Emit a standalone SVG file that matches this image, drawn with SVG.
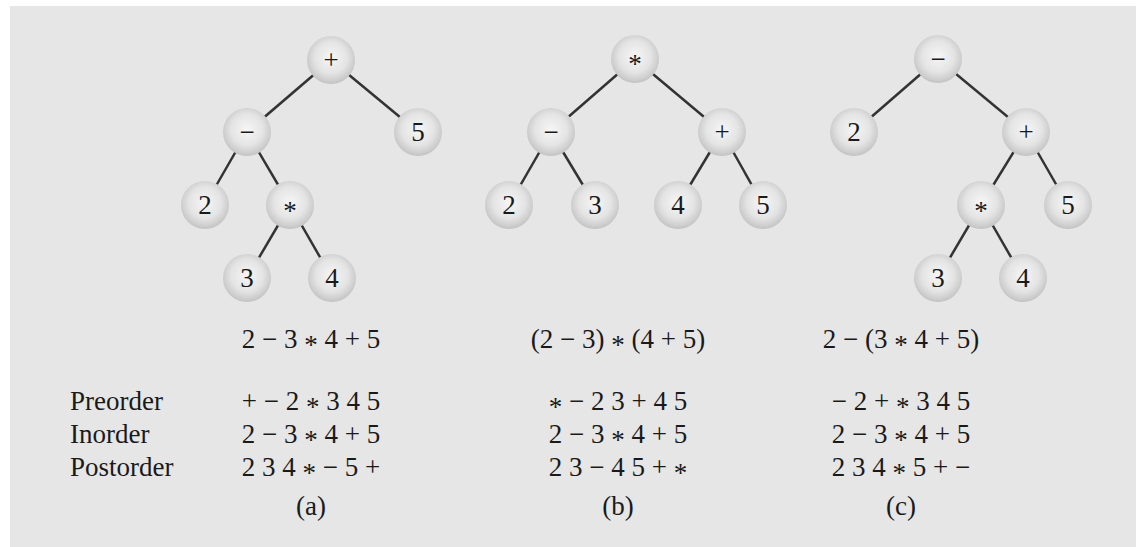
<svg xmlns="http://www.w3.org/2000/svg" width="1136" height="547" viewBox="0 0 1136 547">
<defs>
<radialGradient id="ng" cx="50%" cy="45%" r="55%">
<stop offset="0" stop-color="#f6f6f6"/>
<stop offset="0.6" stop-color="#e4e4e4"/>
<stop offset="0.88" stop-color="#cecece"/>
<stop offset="1" stop-color="#c2c2c2"/>
</radialGradient>
</defs>
<style>
.n circle{fill:url(#ng);}
.n text{font-family:"Liberation Serif",serif;font-size:27px;fill:#1a1a1a;text-anchor:middle;}
.e line{stroke:#333;stroke-width:2.5;}
.t{font-family:"Liberation Serif",serif;font-size:27px;fill:#1a1a1a;}
.m{text-anchor:middle;}
</style>
<rect x="0" y="0" width="1136" height="547" fill="#ffffff"/>
<rect x="10" y="6" width="1126" height="541" fill="#e6e6e6"/>
<g id="connectors" class="e">
<line x1="331" y1="60" x2="247" y2="132"/>
<line x1="331" y1="60" x2="418" y2="132"/>
<line x1="247" y1="132" x2="205" y2="205"/>
<line x1="247" y1="132" x2="290" y2="205"/>
<line x1="290" y1="205" x2="247" y2="278"/>
<line x1="290" y1="205" x2="332" y2="278"/>
<line x1="635" y1="59" x2="551" y2="132"/>
<line x1="635" y1="59" x2="722" y2="132"/>
<line x1="551" y1="132" x2="509" y2="205"/>
<line x1="551" y1="132" x2="595" y2="205"/>
<line x1="722" y1="132" x2="678" y2="205"/>
<line x1="722" y1="132" x2="763" y2="205"/>
<line x1="938" y1="59" x2="854" y2="132"/>
<line x1="938" y1="59" x2="1026" y2="132"/>
<line x1="1026" y1="132" x2="981" y2="205"/>
<line x1="1026" y1="132" x2="1068" y2="205"/>
<line x1="981" y1="205" x2="938" y2="278"/>
<line x1="981" y1="205" x2="1023" y2="278"/>
</g>
<g id="a-plus" class="n"><circle cx="331" cy="60" r="24"/><text x="331" y="69">+</text></g>
<g id="a-minus" class="n"><circle cx="247" cy="132" r="24"/><text x="247" y="141">−</text></g>
<g id="a-5" class="n"><circle cx="418" cy="132" r="24"/><text x="418" y="141">5</text></g>
<g id="a-2" class="n"><circle cx="205" cy="205" r="24"/><text x="205" y="214">2</text></g>
<g id="a-star" class="n"><circle cx="290" cy="205" r="24"/><text x="290" y="220">*</text></g>
<g id="a-3" class="n"><circle cx="247" cy="278" r="24"/><text x="247" y="287">3</text></g>
<g id="a-4" class="n"><circle cx="332" cy="278" r="24"/><text x="332" y="287">4</text></g>

<g id="b-star" class="n"><circle cx="635" cy="59" r="24"/><text x="635" y="73">*</text></g>
<g id="b-minus" class="n"><circle cx="551" cy="132" r="24"/><text x="551" y="141">−</text></g>
<g id="b-plus" class="n"><circle cx="722" cy="132" r="24"/><text x="722" y="141">+</text></g>
<g id="b-2" class="n"><circle cx="509" cy="205" r="24"/><text x="509" y="214">2</text></g>
<g id="b-3" class="n"><circle cx="595" cy="205" r="24"/><text x="595" y="214">3</text></g>
<g id="b-4" class="n"><circle cx="678" cy="205" r="24"/><text x="678" y="214">4</text></g>
<g id="b-5" class="n"><circle cx="763" cy="205" r="24"/><text x="763" y="214">5</text></g>

<g id="c-minus" class="n"><circle cx="938" cy="59" r="24"/><text x="938" y="68">−</text></g>
<g id="c-2" class="n"><circle cx="854" cy="132" r="24"/><text x="854" y="141">2</text></g>
<g id="c-plus" class="n"><circle cx="1026" cy="132" r="24"/><text x="1026" y="141">+</text></g>
<g id="c-star" class="n"><circle cx="981" cy="205" r="24"/><text x="981" y="220">*</text></g>
<g id="c-5" class="n"><circle cx="1068" cy="205" r="24"/><text x="1068" y="214">5</text></g>
<g id="c-3" class="n"><circle cx="938" cy="278" r="24"/><text x="938" y="287">3</text></g>
<g id="c-4" class="n"><circle cx="1023" cy="278" r="24"/><text x="1023" y="287">4</text></g>

<g id="labels" class="t">
<text x="70" y="410">Preorder</text>
<text x="70" y="443">Inorder</text>
<text x="70" y="476">Postorder</text>
</g>
<g id="col-a" class="t m">
<text x="311" y="348">2 − 3 <tspan dy="6">*</tspan><tspan dy="-6"> 4 + 5</tspan></text>
<text x="311" y="410">+ − 2 <tspan dy="6">*</tspan><tspan dy="-6"> 3 4 5</tspan></text>
<text x="311" y="443">2 − 3 <tspan dy="6">*</tspan><tspan dy="-6"> 4 + 5</tspan></text>
<text x="311" y="476">2 3 4 <tspan dy="6">*</tspan><tspan dy="-6"> − 5 +</tspan></text>
<text x="311" y="515">(a)</text>
</g>
<g id="col-b" class="t m">
<text x="618" y="348">(2 − 3) <tspan dy="6">*</tspan><tspan dy="-6"> (4 + 5)</tspan></text>
<text x="618" y="410"><tspan dy="6">*</tspan><tspan dy="-6"> − 2 3 + 4 5</tspan></text>
<text x="618" y="443">2 − 3 <tspan dy="6">*</tspan><tspan dy="-6"> 4 + 5</tspan></text>
<text x="618" y="476">2 3 − 4 5 + <tspan dy="6">*</tspan></text>
<text x="618" y="515">(b)</text>
</g>
<g id="col-c" class="t m">
<text x="901" y="348">2 − (3 <tspan dy="6">*</tspan><tspan dy="-6"> 4 + 5)</tspan></text>
<text x="901" y="410">− 2 + <tspan dy="6">*</tspan><tspan dy="-6"> 3 4 5</tspan></text>
<text x="901" y="443">2 − 3 <tspan dy="6">*</tspan><tspan dy="-6"> 4 + 5</tspan></text>
<text x="901" y="476">2 3 4 <tspan dy="6">*</tspan><tspan dy="-6"> 5 + −</tspan></text>
<text x="901" y="515">(c)</text>
</g>
</svg>
